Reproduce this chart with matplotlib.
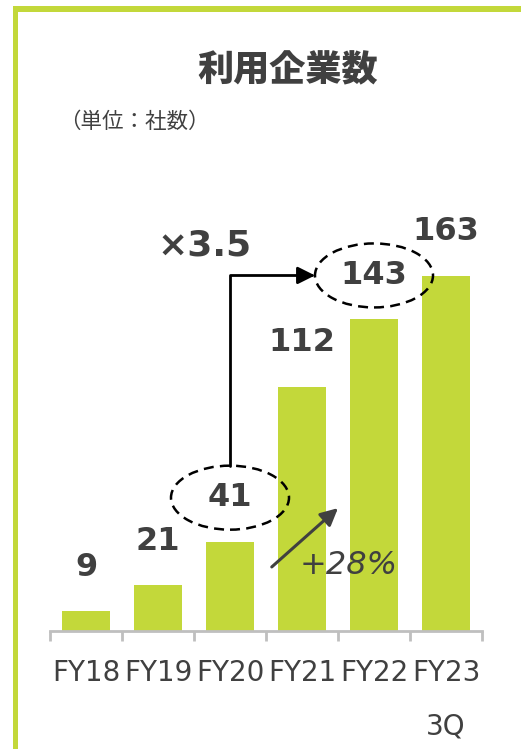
import matplotlib
matplotlib.use('Agg')
import matplotlib.pyplot as plt
from matplotlib.patches import Ellipse, Rectangle

# data
categories = ['FY18', 'FY19', 'FY20', 'FY21', 'FY22', 'FY23']
companies = [9, 21, 41, 112, 143, 163]
last_note = '3Q'
title = '利用企業数'
unit_note = '（単位：社数）'
growth_label = '×3.5'
yoy_label = '+28%'

GREEN = '#c3d83a'
TEXT = '#404040'
AXIS = '#bfbfbf'
CJK = ['Noto Sans CJK JP', 'DejaVu Sans']

W, H = 521, 749
fig = plt.figure(figsize=(W / 100, H / 100), dpi=100)

def fx(px):
    return px / W

def fy(py):
    return 1 - py / H

# green frame (top and left)
fig.add_artist(Rectangle((fx(13), fy(12)), fx(W - 13), 6 / H, transform=fig.transFigure,
                         color=GREEN, lw=0))
fig.add_artist(Rectangle((fx(13), 0), 5 / W, fy(6), transform=fig.transFigure,
                         color=GREEN, lw=0))

fig.text(fx(288), fy(70), title, family=CJK, fontsize=26, fontweight='heavy',
         color=TEXT, ha='center', va='center')
fig.text(fx(134), fy(122), unit_note, family=CJK, fontsize=15.5,
         color=TEXT, ha='center', va='center')

ax_h_px = 451
ymax = 207
ax = fig.add_axes([fx(50), 118 / H, 432 / W, ax_h_px / H])
ax.set_xlim(-0.5, len(categories) - 0.5)
ax.set_ylim(0, ymax)
px_per_unit = ax_h_px / ymax

x = list(range(len(categories)))
ax.bar(x, companies, width=0.667, color=GREEN, zorder=2)

for s in ['top', 'right', 'left']:
    ax.spines[s].set_visible(False)
ax.spines['bottom'].set_color(AXIS)
ax.spines['bottom'].set_linewidth(2)
ax.set_yticks([])
ax.set_xticks(x)
ax.set_xticklabels(categories, fontsize=20, color=TEXT)
ax.tick_params(axis='x', which='major', length=0, pad=20)
ax.set_xticks([i - 0.5 for i in range(len(categories) + 1)], minor=True)
ax.tick_params(axis='x', which='minor', length=7, width=2, color=AXIS)
ax.annotate(last_note, xy=(x[-1], 0), xycoords=('data', 'axes fraction'),
            xytext=(0, -69), textcoords='offset points', ha='center', va='center',
            fontsize=20, color=TEXT)

# value labels
label_off = 44 / px_per_unit
for i, v in zip(x, companies):
    ax.text(i, v + label_off, str(v), ha='center', va='center', fontsize=23,
            fontweight='bold', color=TEXT)

# dashed ellipses around FY20 and FY22
ell_w = 118 / 72
ell_h = 64 / px_per_unit
for i in [2, 4]:
    ax.add_patch(Ellipse((i, companies[i] + label_off), ell_w, ell_h, fill=False,
                         ec='black', lw=1.8, ls=(0, (4, 2.5)), zorder=3))

# elbow arrow 41 -> 143
y_start = companies[2] + label_off + ell_h / 2
y_end = companies[4] + label_off
ax.annotate('', xy=(4 - ell_w / 2, y_end), xytext=(2, y_start),
            arrowprops=dict(arrowstyle='-|>', connectionstyle='angle,angleA=90,angleB=0,rad=0',
                            color='black', lw=2, shrinkA=0, shrinkB=0, mutation_scale=26))
ax.text(1.65, 177, growth_label, ha='center', va='center', fontsize=26,
        fontweight='bold', color=TEXT)

# yoy arrow
ax.annotate('', xy=(3.5, 56.4), xytext=(2.58, 29.4),
            arrowprops=dict(arrowstyle='-|>', color=TEXT, lw=2.2, shrinkA=0, shrinkB=0,
                            mutation_scale=26))
ax.text(2.97, 30, yoy_label, ha='left', va='center', fontsize=23, style='italic', color=TEXT)

fig.savefig('out.png', dpi=100)
